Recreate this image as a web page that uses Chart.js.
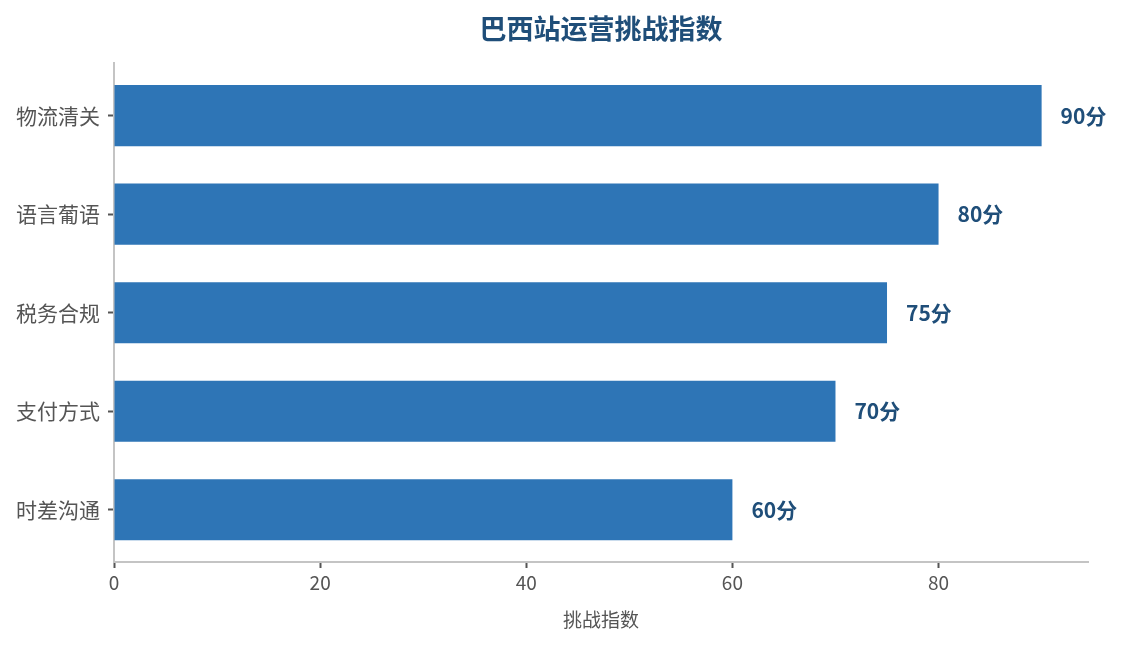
<!DOCTYPE html>
<html>
<head>
<meta charset="utf-8">
<script src="https://cdn.jsdelivr.net/npm/chart.js@4/dist/chart.umd.min.js"></script>
<style>
  body { margin: 0; background: #fff; }
  #wrap { width: 1122px; height: 645px; }
</style>
</head>
<body>
<div id="wrap"><canvas id="myChart" width="1122" height="645"></canvas></div>
<script>
var titleText = '巴西站运营挑战指数'
var axisTitle = '挑战指数'
var categories = ['物流清关', '语言葡语', '税务合规', '支付方式', '时差沟通']
var scores = [90, 80, 75, 70, 60]
var xTicks = [0, 20, 40, 60, 80]
var unit = '分'

var FONT = '"Noto Sans CJK SC", "Noto Sans", sans-serif'

// values written at the end of each bar
var barLabels = {
	id: 'barLabels',
	afterDatasetsDraw(chart) {
		const c = chart.ctx
		const meta = chart.getDatasetMeta(0)
		c.save()
		c.font = 'bold 21px ' + FONT
		c.fillStyle = '#1f4e79'
		c.textAlign = 'left'
		c.textBaseline = 'middle'
		meta.data.forEach((bar, i) => {
			c.fillText(scores[i] + unit, bar.x + 19, bar.y)
		})
		c.restore()
	}
}

var ctx = document.getElementById('myChart').getContext('2d')
var chart = new Chart(ctx, {
	type: 'bar',
	data: {
		labels: categories,
		datasets: [{
			data: scores.map((v, i) => ({ x: v, y: i })),
			backgroundColor: '#2e75b6',
			borderWidth: 0,
			barPercentage: 0.62,
			categoryPercentage: 1
		}]
	},
	options: {
		indexAxis: 'y',
		responsive: false,
		devicePixelRatio: 1,
		animation: false,
		layout: { padding: { top: 9, right: 34, bottom: 10, left: 0 } },
		plugins: {
			legend: { display: false },
			tooltip: { enabled: false },
			title: {
				display: true,
				text: titleText,
				fullSize: false,
				color: '#1f4e79',
				font: { family: FONT, size: 27, weight: 'bold' },
				padding: { top: 4, bottom: 18 },
				align: 'center'
			}
		},
		scales: {
			x: {
				type: 'linear',
				min: 0,
				max: 94.5,
				afterBuildTicks: s => { s.ticks = xTicks.map(v => ({ value: v })) },
				border: { color: '#c4c4c4', width: 2 },
				grid: { drawOnChartArea: false, drawTicks: true, tickLength: 6, tickColor: '#555', tickWidth: 2 },
				ticks: { color: '#555', font: { family: FONT, size: 19 }, padding: 3 },
				title: { display: true, text: axisTitle, color: '#555', font: { family: FONT, size: 19 }, padding: { top: 0 } },
				afterFit: s => { s.height = 73 }
			},
			y: {
				type: 'linear',
				reverse: true,
				offset: false,
				min: -0.53,
				max: 4.53,
				afterBuildTicks: s => { s.ticks = categories.map((c, i) => ({ value: i })) },
				border: { color: '#c4c4c4', width: 2 },
				grid: { offset: false, drawOnChartArea: false, drawTicks: true, tickLength: 6, tickColor: '#555', tickWidth: 2 },
				ticks: {
					color: '#555',
					font: { family: FONT, size: 21 },
					padding: 8,
					callback: v => categories[v]
				},
				afterFit: s => { s.width = 114 }
			}
		}
	},
	plugins: [barLabels]
})
</script>
</body>
</html>
